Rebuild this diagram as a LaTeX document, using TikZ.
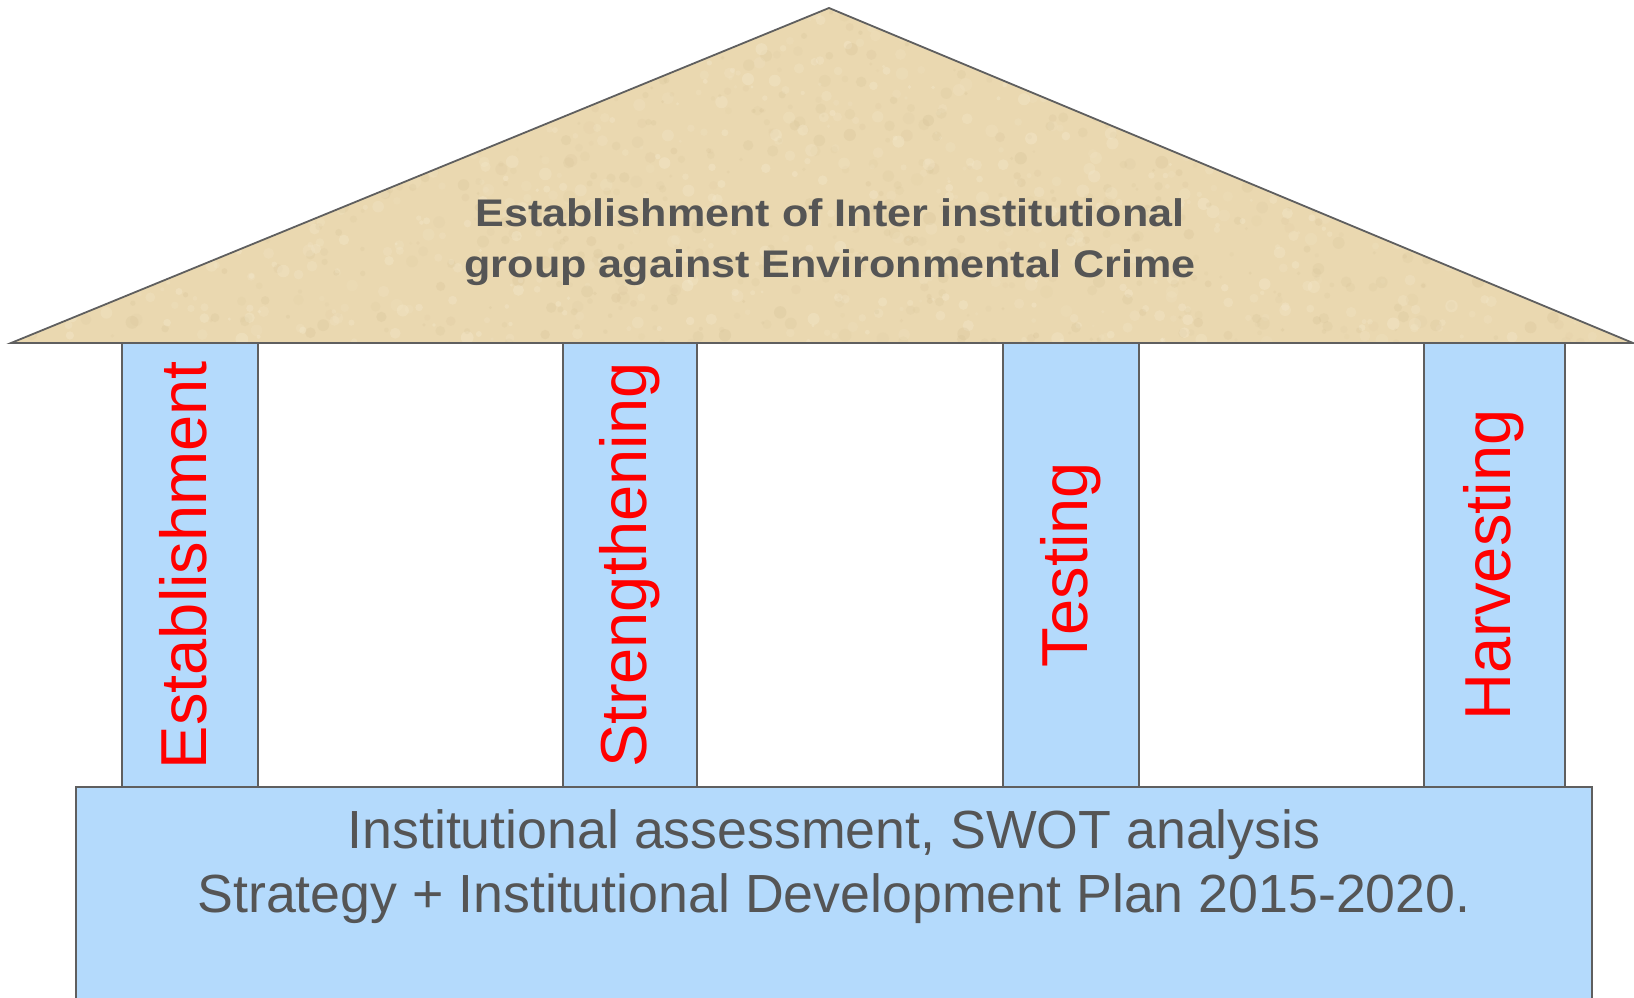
\documentclass[tikz,border=0pt]{standalone}
\usepackage{fontspec}
\setmainfont{Liberation Sans}
\newfontfamily\rooffont[FakeStretch=1.12]{Liberation Sans}
\definecolor{pillarblue}{RGB}{180,218,252}
\definecolor{edgegray}{RGB}{95,95,95}
\definecolor{textgray}{RGB}{85,85,85}
\definecolor{sand}{RGB}{234,216,176}
\definecolor{sandlight}{RGB}{246,236,210}
\definecolor{sanddark}{RGB}{205,185,140}
\definecolor{pillarred}{RGB}{255,0,0}
\tikzset{
  pillar/.style={draw=edgegray, line width=1.8pt, fill=pillarblue, rectangle,
    inner sep=0pt, outer sep=0pt, minimum height=444pt, anchor=north west},
  pillartext/.style={text=pillarred, font=\fontsize{65}{70}\selectfont,
    rotate=90, anchor=base, inner sep=0pt},
  rooftext/.style={text=textgray, font=\rooffont\bfseries\fontsize{38.5}{46}\selectfont,
    anchor=base, inner sep=0pt},
  basetext/.style={text=textgray, font=\fontsize{53.7}{60}\selectfont,
    anchor=base, inner sep=0pt},
  basebox/.style={draw=edgegray, line width=1.8pt, fill=pillarblue}
}
\begin{document}
\begin{tikzpicture}[x=1pt,y=-1pt]
\useasboundingbox (0,0) rectangle (1634,998);
\clip (0,0) rectangle (1634,998);
% pillars
\node[pillar, minimum width=136pt] (p1) at (122,343) {};
\node[pillar, minimum width=134pt] (p2) at (563,343) {};
\node[pillar, minimum width=136pt] (p3) at (1003,343) {};
\node[pillar, minimum width=141pt] (p4) at (1424,343) {};
\node[pillartext] (t1) at ([xshift=16pt]p1.center) {Establishment};
\node[pillartext] (t2) at ([xshift=16pt]p2.center) {Strengthening};
\node[pillartext] (t3) at ([xshift=16pt]p3.center) {Testing};
\node[pillartext] (t4) at ([xshift=16pt]p4.center) {Harvesting};
% base
\draw[basebox] (76,1010) -- (76,787) -- (1592,787) -- (1592,1010);
\fill[pillarblue] (77,788.5) rectangle (1591,1010);
\node[basetext] (b1) at (834,848) {Institutional assessment, SWOT analysis};
\node[basetext] (b2) at (834,912) {Strategy + Institutional Development Plan 2015-2020.};
% roof
\coordinate (rl) at (11,343);
\coordinate (ra) at (829,8);
\coordinate (rr) at (1633,343);
\begin{scope}
  \clip (rl) -- (ra) -- (rr) -- cycle;
  \fill[sand] (rl) -- (ra) -- (rr) -- cycle;
  \pgfmathsetseed{11}
  \foreach \i in {1,...,2000}{
    \pgfmathsetmacro{\rx}{11+1622*rnd}
    \pgfmathsetmacro{\ry}{8+335*rnd}
    \pgfmathsetmacro{\rs}{1.5+5*rnd}
    \pgfmathsetmacro{\ro}{0.10+0.25*rnd}
    \ifodd\i
      \fill[sandlight, opacity=\ro] (\rx,\ry) circle[radius=\rs pt];
    \else
      \fill[sanddark, opacity=\ro*0.6] (\rx,\ry) circle[radius=\rs pt];
    \fi
  }
\end{scope}
\draw[draw=edgegray, line width=1.8pt, line join=miter] (rl) -- (ra) -- (rr) -- cycle;
\node[rooftext] (r1) at (830,226) {Establishment of Inter institutional};
\node[rooftext] (r2) at (830,277) {group against Environmental Crime};
\end{tikzpicture}
\end{document}
